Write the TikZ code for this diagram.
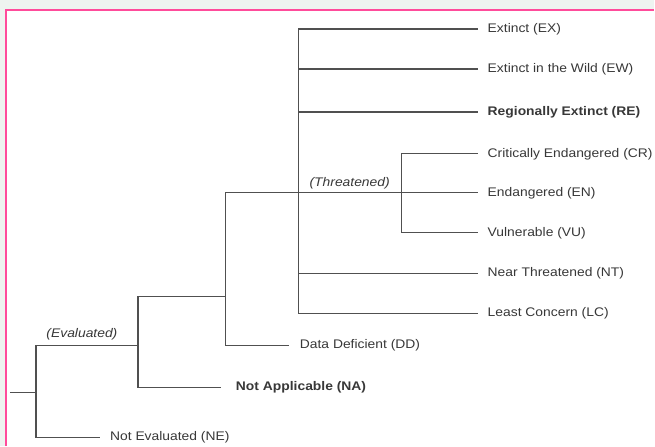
\documentclass[tikz,border=0pt]{standalone}
\usepackage{fontspec}
\setmainfont{Liberation Sans}[FakeStretch=1.11]
\definecolor{linegray}{HTML}{505050}
\definecolor{textgray}{HTML}{383838}
\definecolor{bgout}{HTML}{EEF4F0}
\definecolor{pinkb}{HTML}{FF4C9B}
\begin{document}
\begin{tikzpicture}[x=1pt,y=-1pt,
  br/.style={draw=linegray, line width=1.3pt},
  lab/.style={anchor=west, inner sep=0pt, text=textgray, font=\fontsize{12.5}{15}\selectfont},
  blab/.style={lab, font=\fontsize{12.5}{15}\selectfont\bfseries},
  grp/.style={inner sep=0pt, text=textgray, font=\fontsize{12.5}{15}\selectfont\itshape}]
\fill[bgout] (0,0) rectangle (655,446);
\fill[white] (6,10) rectangle (655,446);
\draw[pinkb, line width=1.3pt] (6,446) -- (6,10) -- (655,10);
\useasboundingbox (0,0) rectangle (655,446);
% junctions
\coordinate (root) at (10,393);
\coordinate (j0) at (36,393);
\coordinate (j1) at (138,346);
\coordinate (j2) at (226,297);
\coordinate (j3) at (299,193);
\coordinate (j4) at (402,193);
% labels
\node[lab] (ex) at (488,29) {Extinct (EX)};
\node[lab] (ew) at (488,69) {Extinct in the Wild (EW)};
\node[blab] (re) at (488,112) {Regionally Extinct (RE)};
\node[lab] (cr) at (488,154) {Critically Endangered (CR)};
\node[lab] (en) at (488,193) {Endangered (EN)};
\node[lab] (vu) at (488,233) {Vulnerable (VU)};
\node[lab] (nt) at (488,274) {Near Threatened (NT)};
\node[lab] (lc) at (488,314) {Least Concern (LC)};
\node[lab] (dd) at (300,346) {Data Deficient (DD)};
\node[blab] (na) at (236,388) {Not Applicable (NA)};
\node[lab] (ne) at (110,438) {Not Evaluated (NE)};
\node[grp] (thr) at (350,183) {(Threatened)};
\node[grp] (eval) at (82,335) {(Evaluated)};
% connectors
\draw[br] (root) -- (j0);
\draw[br] (j0) |- (j1);
\draw[br] (j0) |- ([xshift=-10pt]ne.west);
\draw[br] (j1) |- (j2);
\draw[br] (j1) |- ([xshift=-15pt]na.west);
\draw[br] (j2) |- (j3);
\draw[br] (j2) |- ([xshift=-11pt]dd.west);
\draw[br] (j3) -- (j4) -- ([xshift=-10pt]en.west);
\foreach \n in {ex,ew,re,nt,lc} \draw[br] (j3) |- ([xshift=-10pt]\n.west);
\draw[br] (j4) |- ([xshift=-10pt]cr.west);
\draw[br] (j4) |- ([xshift=-10pt]vu.west);
\end{tikzpicture}
\end{document}
